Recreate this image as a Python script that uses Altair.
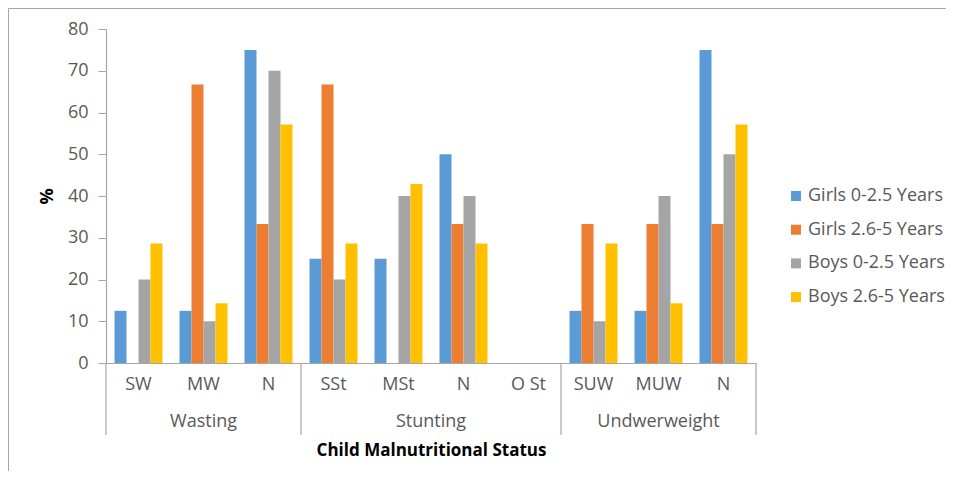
import altair as alt
import pandas as pd

categories = ["SW", "MW", "N", "SSt", "MSt", "N", "O St", "SUW", "MUW", "N"]
groups = ["Wasting", "Stunting", "Undwerweight"]
group_sizes = [3, 4, 3]
series = ["Girls 0-2.5 Years", "Girls 2.6-5 Years", "Boys 0-2.5 Years", "Boys 2.6-5 Years"]
colors = ["#5B9BD5", "#ED7D31", "#A5A5A5", "#FFC000"]

girls_0_25 = [12.5, 12.5, 75, 25, 25, 50, 0, 12.5, 12.5, 75]
girls_26_5 = [0, 66.7, 33.3, 66.7, 0, 33.3, 0, 33.3, 33.3, 33.3]
boys_0_25 = [20, 10, 70, 20, 40, 40, 0, 10, 40, 50]
boys_26_5 = [28.6, 14.3, 57.1, 28.6, 42.9, 28.6, 0, 28.6, 14.3, 57.1]

y_ticks = [0, 10, 20, 30, 40, 50, 60, 70, 80]

FONT = "Open Sans"
TXT = "#595959"
LINE = "#A6A6A6"

keys = [f"{i:02d}|{c}" for i, c in enumerate(categories)]

rows = []
for s, vals in zip(series, [girls_0_25, girls_26_5, boys_0_25, boys_26_5]):
    for k, v in zip(keys, vals):
        rows.append({"key": k, "series": s, "value": v})
bars_df = pd.DataFrame(rows)

# group decorations, placed on the category scale
starts = [sum(group_sizes[:i]) for i in range(len(group_sizes))]
div_start_df = pd.DataFrame({"key": [keys[b] for b in starts]})
div_end_df = pd.DataFrame({"key": [keys[-1]]})
odd_df = pd.DataFrame({
    "key": [keys[b + n // 2] for b, n in zip(starts, group_sizes) if n % 2 == 1],
    "group": [g for g, n in zip(groups, group_sizes) if n % 2 == 1],
})
even_df = pd.DataFrame({
    "key": [keys[b + n // 2] for b, n in zip(starts, group_sizes) if n % 2 == 0],
    "group": [g for g, n in zip(groups, group_sizes) if n % 2 == 0],
})

x_scale = alt.Scale(paddingInner=0, paddingOuter=0)

bars = alt.Chart(bars_df).mark_bar().encode(
    x=alt.X("key:N", sort="ascending", scale=x_scale,
            axis=alt.Axis(labelExpr="split(datum.label, '|')[1]", labelAngle=0,
                          ticks=False, tickSize=0, labelPadding=12,
                          labelFontSize=18, labelColor=TXT, labelFont=FONT,
                          domainColor=LINE, domainWidth=1.2,
                          title="Child Malnutritional  Status", titleFont=FONT,
                          titleFontSize=17, titleFontWeight="bold", titleColor="#000000",
                          titlePadding=49)),
    xOffset=alt.XOffset("series:N", sort=series,
                        scale=alt.Scale(paddingInner=0, paddingOuter=0.71)),
    y=alt.Y("value:Q", scale=alt.Scale(domain=[0, 80], nice=False),
            axis=alt.Axis(values=y_ticks, grid=False, tickSize=8, tickColor=LINE,
                          domainColor=LINE, domainWidth=1.2, labelPadding=10,
                          labelFontSize=18, labelColor=TXT, labelFont=FONT,
                          title="%", titleFont=FONT, titleFontSize=18,
                          titleFontWeight="bold", titleColor="#000000",
                          titleAngle=-90, titleX=-59, titleY=167,
                          titleAlign="center", titleBaseline="middle")),
    color=alt.Color("series:N", sort=series,
                    scale=alt.Scale(domain=series, range=colors),
                    legend=alt.Legend(title=None, orient="none", legendX=681, legendY=158,
                                      symbolType="square", symbolSize=100,
                                      symbolStrokeWidth=0, labelFontSize=18,
                                      labelFont=FONT, labelColor=TXT,
                                      rowPadding=15.7, labelOffset=3)),
)

div_start = alt.Chart(div_start_df).mark_rule(color=LINE, strokeWidth=1.2).encode(
    x=alt.X("key:N", sort="ascending", bandPosition=0),
    y=alt.value(334), y2=alt.value(406),
)
div_end = alt.Chart(div_end_df).mark_rule(color=LINE, strokeWidth=1.2).encode(
    x=alt.X("key:N", sort="ascending", bandPosition=1),
    y=alt.value(334), y2=alt.value(406),
)
glab_odd = alt.Chart(odd_df).mark_text(font=FONT, fontSize=18, color=TXT,
                                       baseline="middle").encode(
    x=alt.X("key:N", sort="ascending", bandPosition=0.5),
    y=alt.value(393), text="group:N",
)
glab_even = alt.Chart(even_df).mark_text(font=FONT, fontSize=18, color=TXT,
                                         baseline="middle").encode(
    x=alt.X("key:N", sort="ascending", bandPosition=0),
    y=alt.value(393), text="group:N",
)

frame = alt.Chart(pd.DataFrame({"a": [0]})).mark_rect(
    fill=None, fillOpacity=0, stroke=LINE, strokeWidth=1).encode(
    x=alt.value(-97.5), x2=alt.value(1000), y=alt.value(-20.5), y2=alt.value(600))

chart = alt.layer(bars, div_start, div_end, glab_odd, glab_even, frame).properties(
    width=650, height=334,
    background="white",
    autosize=alt.AutoSizeParams(type="none"),
    padding={"left": 98, "top": 21, "right": 190, "bottom": 108},
).configure_view(stroke=None)

chart.save("out.html", embed_options={"renderer": "svg", "actions": False})
